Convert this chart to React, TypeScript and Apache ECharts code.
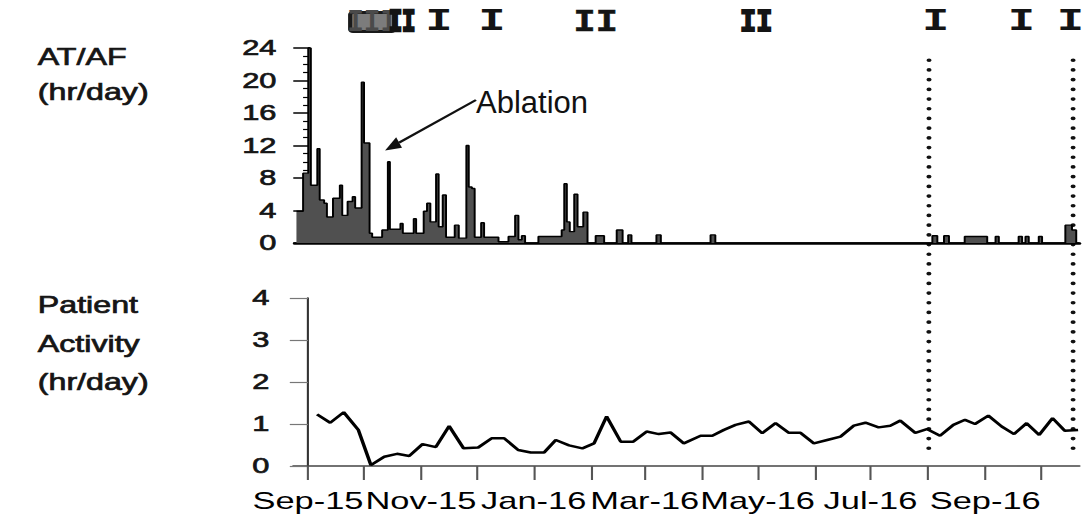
import React, { useEffect, useRef } from "react";
import * as echarts from "echarts";

// horizontal stretch of the original figure
const INNER_W = 776;
const SX = 1086 / INNER_W;

// x values are days since 1 Sep 2015
const monthTickDays = [0, 30, 61, 91, 122, 153, 182, 213, 243, 274, 304, 335, 366, 396];
const monthLabelDays = [0, 61, 122, 182, 243, 304, 366];
const monthLabels = ["Sep-15", "Nov-15", "Jan-16", "Mar-16", "May-16", "Jul-16", "Sep-16"];

// AT/AF burden (hr/day), step values holding until next day entry
const afDays = [
  -7, -3.4, -0.6, 0.8, 4.3, 5.6, 8, 9.5, 12.8, 16.5, 17.8, 20.7, 23.4, 24.8, 28.3, 29.6, 32.6, 34,
  39.4, 42.5, 43.6, 49.3, 50.6, 56.5, 57.8, 61.9, 63.7, 65.5, 68.6, 70, 72.2, 74, 78.7, 80.9, 85,
  86.3, 88, 89.5, 93, 94.6, 102.4, 107.8, 111.4, 113.2, 115, 116.8, 124, 136.6, 138, 139.4, 141,
  143.4, 145.2, 148.3, 150.6, 155, 159.6, 166.4, 169.6, 172.6, 174.4, 187.9, 190.3, 217.2, 219.8,
  337.3, 340, 343.6, 346.3, 354.8, 367, 371.5, 373.3, 384, 385.9, 387.7, 389.5, 394.9, 396.7,
  409.3, 412.9, 415.2, 417,
];
const afHours = [
  3.9, 8.6, 24, 7.1, 11.6, 5.3, 4.9, 3.2, 5.5, 7.1, 3.4, 5.1, 5.7, 4.3, 19.8, 12.3, 1.2, 0.7,
  1.6, 10, 1.7, 2.4, 1.2, 3, 1.2, 3.9, 4.9, 2.6, 8.5, 2, 5.9, 0.7, 2.2, 0.6, 12,
  6.9, 6.7, 0.7, 2.5, 0.7, 0.15, 0.8, 3.4, 0.4, 0.9, 0, 0.8, 1.6, 7.3, 2.6, 1.4,
  6, 2, 3.8, 0, 0.9, 0, 1.6, 0, 1, 0, 1, 0, 1, 0,
  0.9, 0, 0.9, 0, 0.8, 0, 0.8, 0, 0.8, 0, 0.8, 0, 0.8, 0,
  2.2, 1.6, 0, 0,
];

// Patient activity (hr/day), weekly
const activityDays = [
  4.9, 12.0, 19.3, 27.2, 34.0, 41.2, 48.1, 54.7, 61.9, 69.1, 76.3, 84.1, 92.0, 99.2, 106.0,
  113.6, 120.4, 127.6, 133.9, 141.1, 148.3, 154.6, 161.4, 169.0, 175.8, 183.0, 189.6, 195.9,
  203.1, 212.2, 218.5, 224.8, 231.1, 238.3, 245.5, 252.7, 259.9, 266.2, 273.4, 280.6, 287.8,
  295.0, 301.3, 308.4, 314.7, 320.1, 328.2, 334.5, 341.6, 348.8, 355.1, 360.5, 367.7, 374.9,
  381.6, 388.4, 395.2, 402.4, 409.0, 416.2,
];
const activityHours = [
  1.23, 1.03, 1.28, 0.86, 0.02, 0.22, 0.29, 0.24, 0.52, 0.45, 0.95, 0.42, 0.44, 0.66, 0.66,
  0.38, 0.32, 0.32, 0.62, 0.49, 0.42, 0.54, 1.18, 0.58, 0.58, 0.82, 0.76, 0.8,
  0.54, 0.72, 0.72, 0.86, 0.98, 1.06, 0.78, 1.02, 0.79, 0.79, 0.54, 0.62, 0.7,
  0.96, 1.03, 0.92, 0.96, 1.08, 0.79, 0.88, 0.72, 0.98, 1.1, 1.0, 1.2, 0.94,
  0.76, 1.02, 0.74, 1.14, 0.84, 0.86,
];

// episode markers along the top: text, centre day, horizontal squeeze, extra weight, colour
const markerTexts = ["III", "II", "I", "I", "II", "II", "I", "I", "I"];
const markerDays = [34.0, 50.2, 70.2, 98.8, 155, 241.9, 339.1, 385.5, 412];
const markerSqueeze = [0.62, 0.5, 1, 1, 0.82, 0.6, 1, 1, 1];
const markerWeight = [0, 2.5, 0, 0, 0.6, 2, 0, 0, 0];
const markerGray = [true, false, false, false, false, false, false, false, false];
const markerLevel = 27.2;
// shaded band behind the first cluster (day range)
const clusterBand = [22.1, 45.9];

// dotted event lines
const eventLineDays = [335.5, 413.5];

// ablation annotation (day, hr/day)
const ablationFrom = [90.2, 17.6];
const ablationTo = [41, 11.4];

export default function App() {
  const ref = useRef<HTMLDivElement>(null);

  useEffect(() => {
    const el = ref.current!;
    const chart = echarts.init(el, undefined, { renderer: "svg" });
    const font = '"Liberation Sans", Arial, sans-serif';
    const ink = "#151515";
    const labelMap: Record<number, string> = {};
    monthLabelDays.forEach((d, i) => (labelMap[d] = monthLabels[i]));
    const xMin = -8;
    const xMax = 417;
    const heavy = { textBorderColor: ink, textBorderWidth: 0.7 };

    chart.setOption({
      animation: false,
      backgroundColor: "#fff",
      grid: [
        { left: 210.5, right: 4.6, top: 48, height: 195 },
        { left: 209.5, right: 4.6, top: 298, height: 168 },
      ],
      xAxis: [
        {
          type: "value", gridIndex: 0, min: xMin, max: xMax,
          axisLine: { show: true, onZero: false, lineStyle: { color: "#000", width: 2.5 } },
          axisTick: { show: false }, axisLabel: { show: false }, splitLine: { show: false },
        },
        {
          type: "value", gridIndex: 1, min: xMin, max: xMax,
          axisLine: { show: true, onZero: false, lineStyle: { color: "#444", width: 1.5 } },
          axisTick: { show: true, customValues: monthTickDays, length: 14, lineStyle: { color: "#555", width: 1.5 } },
          axisLabel: {
            customValues: monthLabelDays,
            formatter: (v: number) => labelMap[Math.round(v)] ?? "",
            hideOverlap: false, showMinLabel: true, showMaxLabel: true,
            fontSize: 24.6, color: "#000", fontFamily: font, margin: 22,
          },
          splitLine: { show: false },
        },
      ],
      yAxis: [
        {
          type: "value", gridIndex: 0, min: 0, max: 24, interval: 4,
          axisLine: { show: true, lineStyle: { color: "#000", width: 2 } },
          axisTick: { show: true, length: 11.5, lineStyle: { color: "#000", width: 1.5 } },
          minorTick: { show: true, splitNumber: 4, length: 4.5, lineStyle: { color: "#000", width: 1.2 } },
          axisLabel: { fontSize: 22, color: ink, fontFamily: font, margin: 13, showMinLabel: true, showMaxLabel: true, ...heavy },
          splitLine: { show: false },
        },
        {
          type: "value", gridIndex: 1, min: 0, max: 4, interval: 1,
          axisLine: { show: true, lineStyle: { color: "#333", width: 1.5 } },
          axisTick: { show: true, length: 13, lineStyle: { color: "#777", width: 1.2 } },
          axisLabel: { fontSize: 22, color: ink, fontFamily: font, margin: 17, showMinLabel: true, showMaxLabel: true, ...heavy },
          splitLine: { show: false },
        },
      ],
      series: [
        {
          type: "line", xAxisIndex: 0, yAxisIndex: 0, step: "end",
          data: afDays.map((d, i) => [d, afHours[i]]),
          symbol: "none", showSymbol: false,
          lineStyle: { color: "#000", width: 1.4 },
          areaStyle: { color: "#505050", opacity: 1 },
        },
        {
          type: "line", xAxisIndex: 1, yAxisIndex: 1,
          data: activityDays.map((d, i) => [d, activityHours[i]]),
          symbol: "none", showSymbol: false,
          lineStyle: { color: "#000", width: 2.5 },
        },
      ],
    });

    const toPx = (grid: number, p: number[]) =>
      chart.convertToPixel({ gridIndex: grid } as any, p) as unknown as number[];

    const textEl = (text: string, x: number, y: number, fontStr: string) => ({
      type: "text", x, y, silent: true,
      style: {
        text, font: fontStr, fill: ink, stroke: ink, lineWidth: 0.7,
        textAlign: "left", align: "left",
        textVerticalAlign: "middle", verticalAlign: "middle",
      },
    });

    const graphics: any[] = [];
    const titleFont = `23px ${font}`;
    graphics.push(textEl("AT/AF", 27, 57, titleFont));
    graphics.push(textEl("(hr/day)", 27, 92, titleFont));
    graphics.push(textEl("Patient", 27, 305, titleFont));
    graphics.push(textEl("Activity", 27, 344, titleFont));
    graphics.push(textEl("(hr/day)", 27, 382, titleFont));

    // shaded band behind first marker cluster
    {
      const a = toPx(0, [clusterBand[0], markerLevel]);
      const b = toPx(0, [clusterBand[1], markerLevel]);
      graphics.push({
        type: "rect", silent: true,
        shape: { x: a[0], y: a[1] - 9.5, width: b[0] - a[0], height: 19, r: 2 },
        style: { fill: "#7c7c7c", stroke: "#1a1a1a", lineWidth: 3 },
      });
    }

    markerTexts.forEach((t, i) => {
      const p = toPx(0, [markerDays[i], markerLevel]);
      const w = markerWeight[i];
      const col = markerGray[i] ? "#4a4a4a" : "#141414";
      graphics.push({
        type: "text", x: p[0], y: p[1], scaleX: markerSqueeze[i], silent: true,
        style: {
          text: t,
          font: `bold 32px "Liberation Mono", monospace`,
          fill: col,
          stroke: w > 0 ? col : undefined,
          lineWidth: w,
          textAlign: "center", align: "center", textVerticalAlign: "middle", verticalAlign: "middle",
        },
      });
    });

    eventLineDays.forEach((d) => {
      const top = toPx(0, [d, 22.5]);
      const bot = toPx(1, [d, 0.3]);
      graphics.push({
        type: "line", silent: true,
        shape: { x1: top[0], y1: top[1], x2: bot[0], y2: bot[1] },
        style: { stroke: "#111", lineWidth: 3.6, lineDash: [0.1, 9.6], lineCap: "round" },
      });
    });

    // ablation arrow (computed in the stretched space so its head keeps its shape)
    const tip = toPx(0, ablationTo);
    const tail = toPx(0, ablationFrom);
    const T = [tip[0] * SX, tip[1]];
    const F = [tail[0] * SX, tail[1]];
    const dx = T[0] - F[0];
    const dy = T[1] - F[1];
    const len = Math.sqrt(dx * dx + dy * dy);
    const ux = dx / len;
    const uy = dy / len;
    const hl = 16;
    const hw = 6;
    const bx = T[0] - ux * hl;
    const by = T[1] - uy * hl;
    graphics.push({
      type: "line", silent: true,
      shape: { x1: F[0] / SX, y1: F[1], x2: bx / SX, y2: by },
      style: { stroke: "#111", lineWidth: 2 },
    });
    graphics.push({
      type: "polygon", silent: true,
      shape: {
        points: [
          [T[0] / SX, T[1]],
          [(bx - uy * hw) / SX, by + ux * hw],
          [(bx + uy * hw) / SX, by - ux * hw],
        ],
      },
      style: { fill: "#111" },
    });
    graphics.push({
      type: "text", x: tail[0], y: tail[1] + 3, scaleX: 1 / SX, silent: true,
      style: {
        text: "Ablation", font: `31px ${font}`, fill: "#111",
        textAlign: "left", align: "left", textVerticalAlign: "middle", verticalAlign: "middle",
      },
    });

    chart.setOption({ graphic: graphics });

    return () => chart.dispose();
  }, []);

  return (
    <div style={{ position: "fixed", left: 0, top: 0, width: 1086, height: 523, overflow: "hidden", background: "#fff" }}>
      <div
        ref={ref}
        style={{ width: INNER_W, height: 523, transform: `scaleX(${SX})`, transformOrigin: "0 0" }}
      />
    </div>
  );
}
